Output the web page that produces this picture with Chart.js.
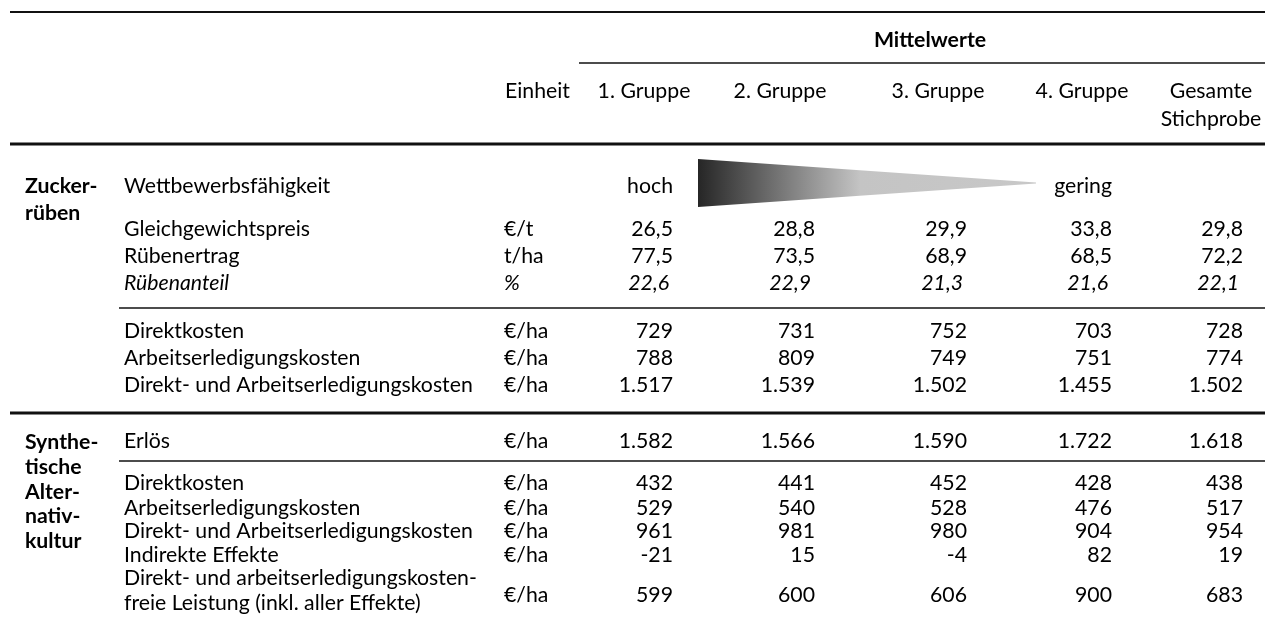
<!DOCTYPE html>
<html>
<head>
<meta charset="utf-8">
<script src="https://cdn.jsdelivr.net/npm/chart.js@4.4.1/dist/chart.umd.min.js"></script>
<style>
body{margin:0;background:#fff}
#wrap{width:1265px;height:644px}
canvas{display:block}
</style>
</head>
<body>
<div id="wrap"><canvas id="tab" width="1265" height="644"></canvas></div>
<script>

/* DATA */

const groups = ["1. Gruppe","2. Gruppe","3. Gruppe","4. Gruppe","Gesamte\nStichprobe"]

const sections = ["Zucker-\nrüben","Synthe-\ntische\nAlter-\nnativ-\nkultur"]

const rowLabels = [
"Gleichgewichtspreis",
"Rübenertrag",
"Rübenanteil",
"Direktkosten",
"Arbeitserledigungskosten",
"Direkt- und Arbeitserledigungskosten",
"Erlös",
"Direktkosten",
"Arbeitserledigungskosten",
"Direkt- und Arbeitserledigungskosten",
"Indirekte Effekte",
"Direkt- und arbeitserledigungskosten-\nfreie Leistung (inkl. aller Effekte)"
]

const units = ["€/t","t/ha","%","€/ha","€/ha","€/ha","€/ha","€/ha","€/ha","€/ha","€/ha","€/ha"]

const decimals = [1,1,1,0,0,0,0,0,0,0,0,0]

const gruppe1 = [26.5,77.5,22.6,729,788,1517,1582,432,529,961,-21,599]
const gruppe2 = [28.8,73.5,22.9,731,809,1539,1566,441,540,981,15,600]
const gruppe3 = [29.9,68.9,21.3,752,749,1502,1590,452,528,980,-4,606]
const gruppe4 = [33.8,68.5,21.6,703,751,1455,1722,428,476,904,82,900]
const gesamt  = [29.8,72.2,22.1,728,774,1502,1618,438,517,954,19,683]

const series = [gruppe1,gruppe2,gruppe3,gruppe4,gesamt]

const scale = ["hoch","gering"]

/* LAYOUT (pixel units on the linear scales) */

const colRight = [673,815,967,1112,1243]
const colCenter = [644,780,938,1082,1211]
const rowY = [236,263,290,338,365,392,448,490,515,538,562,602]
const lastRowLines = [585,610]
const sectionY = [193,449]
const sectionStep = [27,24.8]
const italicRow = 2
const italicShift = -4

const rules = [
{y:12,x0:10,x1:1265,w:2},
{y:63,x0:579,x1:1265,w:1.5},
{y:144,x0:10,x1:1265,w:3},
{y:308,x0:119,x1:1265,w:1.5},
{y:413,x0:10,x1:1265,w:3},
{y:461,x0:119,x1:1265,w:1.5}
]

function fmt(v,d){

let neg = v<0
let s = Math.abs(v).toFixed(d)
let parts = s.split(".")
let int = parts[0].replace(/\B(?=(\d{3})+(?!\d))/g,".")
return (neg?"-":"")+int+(d?","+parts[1]:"")

}

const FONT = "Lato"
let size = 20

const tablePlugin = {

id:"tablePlugin",

afterDatasetsDraw(chart){

const ctx = chart.ctx
const xs = chart.scales.x
const ys = chart.scales.y
const X = v=>xs.getPixelForValue(v)
const Y = v=>ys.getPixelForValue(v)

// fit font to the reference label width
ctx.font = "20px "+FONT
let w = ctx.measureText("Direkt- und Arbeitserledigungskosten").width
size = 20*349/w

const reg = size.toFixed(2)+"px "+FONT
const bold = "bold "+reg
const ital = "italic "+reg

ctx.save()
ctx.fillStyle = "#000"
ctx.textBaseline = "alphabetic"

// rules
ctx.strokeStyle = "#111"
rules.forEach(r=>{
ctx.lineWidth = r.w
ctx.beginPath()
ctx.moveTo(X(r.x0),Y(r.y))
ctx.lineTo(X(r.x1),Y(r.y))
ctx.stroke()
})

// header
ctx.font = bold
ctx.textAlign = "center"
ctx.fillText("Mittelwerte",X(930),Y(47))

ctx.font = reg
ctx.textAlign = "left"
ctx.fillText("Einheit",X(505),Y(98))

ctx.textAlign = "center"
groups.forEach((g,i)=>{
g.split("\n").forEach((line,k)=>{
ctx.fillText(line,X(colCenter[i]),Y(98+k*28))
})
})

// section titles
ctx.font = bold
ctx.textAlign = "left"
sections.forEach((s,i)=>{
s.split("\n").forEach((line,k)=>{
ctx.fillText(line,X(25),Y(sectionY[i]+k*sectionStep[i]))
})
})

// competitiveness row
ctx.font = reg
ctx.fillText("Wettbewerbsfähigkeit",X(124),Y(193))
ctx.textAlign = "right"
ctx.fillText(scale[0],X(colRight[0]),Y(193))
ctx.fillText(scale[1],X(colRight[3]),Y(193))

let gx0 = X(698), gx1 = X(1036)
let grad = ctx.createLinearGradient(gx0,0,gx1,0)
grad.addColorStop(0,"#262626")
grad.addColorStop(0.48,"#c4c4c4")
grad.addColorStop(1,"#c8c8c8")
ctx.fillStyle = grad
ctx.beginPath()
ctx.moveTo(gx0,Y(159))
ctx.lineTo(gx1,Y(182.5))
ctx.lineTo(gx1,Y(183.5))
ctx.lineTo(gx0,Y(207))
ctx.closePath()
ctx.fill()
ctx.fillStyle = "#000"

// row labels and units
rowLabels.forEach((lab,r)=>{
ctx.font = r===italicRow?ital:reg
ctx.textAlign = "left"
let lines = lab.split("\n")
if(lines.length>1){
lines.forEach((line,k)=>ctx.fillText(line,X(124),Y(lastRowLines[k])))
}else{
ctx.fillText(lab,X(124),Y(rowY[r]))
}
ctx.fillText(units[r],X(504),Y(rowY[r]))
})

// values: one dataset per column, drawn at the points' pixel positions
ctx.textAlign = "right"
chart.data.datasets.forEach((ds,i)=>{
const meta = chart.getDatasetMeta(i)
meta.data.forEach((pt,r)=>{
let it = r===italicRow
ctx.font = it?ital:reg
ctx.fillText(fmt(ds.data[r].v,decimals[r]),pt.x+(it?italicShift:0),pt.y)
})
})

ctx.restore()

}

}

new Chart(

document.getElementById("tab"),

{

type:"scatter",

data:{

datasets:series.map((vals,i)=>({

label:groups[i],

data:vals.map((v,r)=>({x:colRight[i],y:rowY[r],v:v})),

pointRadius:0,

pointHoverRadius:0

}))

},

options:{

responsive:false,

animation:false,

devicePixelRatio:1,

layout:{padding:0},

plugins:{legend:{display:false},tooltip:{enabled:false}},

events:[],

scales:{

x:{type:"linear",min:0,max:1265,display:false},

y:{type:"linear",min:0,max:644,reverse:true,display:false}

}

},

plugins:[tablePlugin]

}

)

</script>
</body>
</html>
